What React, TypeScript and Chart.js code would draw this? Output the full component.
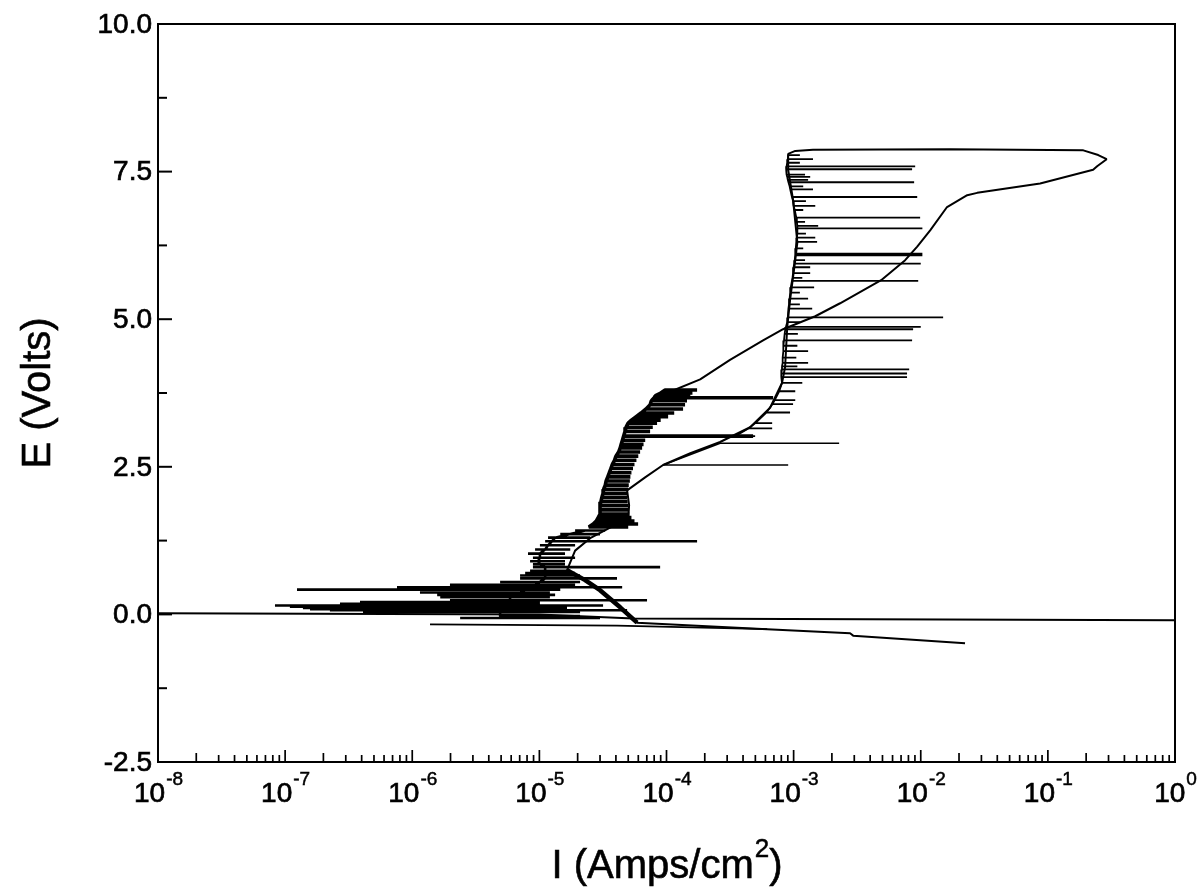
import React, { useEffect, useRef } from "react";
import { Chart, registerables } from "chart.js";

Chart.register(...registerables);

const FONT = '"Liberation Sans", Arial, Helvetica, sans-serif';

// ---------- axis definitions ----------
const xDecades = [-8, -7, -6, -5, -4, -3, -2, -1, 0];
const xMinorMultipliers = [2, 3, 4, 5, 6, 7, 8, 9];
const yMajorTicks = [-2.5, 0, 2.5, 5, 7.5, 10];
const yMinorTicks = [-1.25, 1.25, 3.75, 6.25, 8.75];
const yTickLabels = ["-2.5", "0.0", "2.5", "5.0", "7.5", "10.0"];
const xTitle = "I (Amps/cm";
const xTitleSup = "2";
const yTitle = "E (Volts)";

// ---------- data (I in A/cm², E in V) ----------
// main scan: cathodic end -> forward anodic -> top -> reverse
const scanI = [2.23e-2, 2.94e-3, 2.78e-3, 6.19e-4, 5.87e-5, 4.32e-5, 3.0e-5, 2.29e-5, 1.65e-5, 1.91e-5, 2.51e-5, 3.6e-5, 4.99e-5, 5.08e-5, 4.9e-5, 6.79e-5, 9.4e-5, 1.54e-4, 2.64e-4, 4.55e-4, 6.53e-4, 8.1e-4, 8.57e-4, 8.9e-4, 9.37e-4, 1.03e-3, 1.07e-3, 9.9e-4, 9.06e-4, 9.06e-4, 1.03e-3, 1.42e-3, 1.7e-2, 0.19, 0.249, 0.29, 0.244, 0.227, 0.0869, 0.0278, 0.0232, 0.0161, 0.0119, 9.38e-3, 7.54e-3, 4.88e-3, 2.32e-3, 1.48e-3, 8.26e-4, 5.75e-4, 3.16e-4, 1.84e-4, 1.01e-4];
const scanE = [-0.49, -0.36, -0.32, -0.25, -0.14, 0.12, 0.41, 0.58, 0.75, 1.08, 1.29, 1.47, 1.59, 1.85, 2.1, 2.32, 2.53, 2.73, 2.92, 3.17, 3.5, 3.92, 4.19, 4.86, 5.32, 6.0, 6.3, 7.02, 7.53, 7.8, 7.85, 7.87, 7.88, 7.86, 7.78, 7.71, 7.59, 7.53, 7.3, 7.14, 7.1, 6.9, 6.51, 6.23, 6.0, 5.66, 5.27, 5.05, 4.83, 4.64, 4.31, 3.98, 3.75];

// thick lower part of the forward branch
const thickI = [5.87e-5, 4.32e-5, 3.0e-5, 2.29e-5, 1.65e-5];
const thickE = [-0.14, 0.12, 0.41, 0.58, 0.75];

// zero-current line
const zeroI = [1e-8, 1e-5, 5.5e-5, 1];
const zeroE = [0.02, 0.0, -0.07, -0.1];

// lower cathodic trace
const cathI = [1.38e-6, 4.08e-5, 6.19e-4];
const cathE = [-0.17, -0.19, -0.25];

// noisy spikes along the passive band (E, base current, tip current)
const upperSpikeE = [7.78, 7.71, 7.65, 7.59, 7.54, 7.45, 7.41, 7.36, 7.32, 7.25, 7.2, 7.07, 7.0, 6.92, 6.85, 6.72, 6.65, 6.58, 6.54, 6.45, 6.38, 6.31, 6.2, 6.11, 6.08, 6.0, 5.94, 5.88, 5.78, 5.7, 5.65, 5.54, 5.45, 5.35, 5.25, 5.18, 5.03, 4.95, 4.87, 4.83, 4.75, 4.64, 4.55, 4.46, 4.35, 4.26, 4.2, 4.15, 4.08, 4.02, 3.92, 3.78, 3.63, 3.56, 3.42, 3.24, 3.15, 3.02];
const upperSpikeBase = [9.06e-4, 9.0e-4, 8.9e-4, 8.8e-4, 8.73e-4, 8.8e-4, 8.9e-4, 9.0e-4, 9.1e-4, 9.3e-4, 9.4e-4, 9.7e-4, 9.9e-4, 1.0e-3, 1.02e-3, 1.05e-3, 1.06e-3, 1.07e-3, 1.07e-3, 1.07e-3, 1.06e-3, 1.05e-3, 1.04e-3, 1.03e-3, 1.03e-3, 1.02e-3, 1.01e-3, 1.0e-3, 9.9e-4, 9.8e-4, 9.7e-4, 9.5e-4, 9.4e-4, 9.3e-4, 9.2e-4, 9.1e-4, 9.0e-4, 8.9e-4, 8.7e-4, 8.6e-4, 8.5e-4, 8.4e-4, 8.3e-4, 8.3e-4, 8.2e-4, 8.2e-4, 8.1e-4, 8.1e-4, 8.0e-4, 8.0e-4, 8.1e-4, 7.7e-4, 7.1e-4, 6.8e-4, 6.1e-4, 5.0e-4, 4.4e-4, 3.5e-4];
const upperSpikeTip = [1.12e-3, 1.42e-3, 1.12e-3, 9.04e-3, 8.55e-3, 1.23e-3, 1.35e-3, 1.3e-3, 8.87e-3, 1.19e-3, 1.42e-3, 9.38e-3, 1.25e-3, 1.48e-3, 1.19e-3, 9.89e-3, 1.23e-3, 1.56e-3, 1.03e-2, 1.25e-3, 1.48e-3, 1.53e-3, 1.19e-3, 1.03e-2, 1.03e-2, 1.23e-3, 1.0e-2, 1.35e-3, 1.35e-3, 1.17e-3, 9.55e-3, 1.45e-3, 1.12e-3, 1.3e-3, 1.12e-3, 1.4e-3, 1.5e-2, 1.12e-3, 1.0e-2, 8.71e-3, 1.08e-3, 8.55e-3, 1.07e-3, 1.3e-3, 1.05e-3, 1.3e-3, 1.07e-3, 8.11e-3, 7.8e-3, 7.8e-3, 1.17e-3, 1.03e-3, 1.03e-3, 9.9e-4, 9.37e-4, 6.78e-4, 6.78e-4, 4.98e-4];

// long spikes leaving the forward branch
const fwdSpikeE = [2.9, 2.53];
const fwdSpikeBase = [2.64e-4, 9.4e-5];
const fwdSpikeTip = [2.28e-3, 9.06e-4];

// reverse branch, dense band (E, left edge, right tip)
const midSpikeE = [3.8, 3.75, 3.7, 3.67, 3.62, 3.55, 3.48, 3.41, 3.35, 3.29, 3.24, 3.17, 3.1, 3.02, 2.95, 2.88, 2.82, 2.75, 2.68, 2.61, 2.54, 2.47, 2.4, 2.33, 2.26, 2.19, 2.12, 2.05, 1.98, 1.91, 1.84, 1.77, 1.7, 1.64, 1.58, 1.53, 1.48];
const midSpikeBase = [9.75e-5, 9.0e-5, 8.13e-5, 8.0e-5, 7.6e-5, 7.43e-5, 6.9e-5, 6.3e-5, 5.77e-5, 5.3e-5, 4.99e-5, 4.8e-5, 4.72e-5, 4.6e-5, 4.5e-5, 4.4e-5, 4.32e-5, 4.2e-5, 4.0e-5, 3.9e-5, 3.75e-5, 3.65e-5, 3.55e-5, 3.45e-5, 3.35e-5, 3.3e-5, 3.2e-5, 3.17e-5, 3.1e-5, 3.05e-5, 3.0e-5, 3.0e-5, 3.0e-5, 2.9e-5, 2.8e-5, 2.65e-5, 2.45e-5];
const midSpikeTip = [1.74e-4, 1.6e-4, 1.54e-4, 6.9e-4, 1.45e-4, 1.4e-4, 1.35e-4, 1.15e-4, 1.03e-4, 9.0e-5, 8.43e-5, 7.8e-5, 7.43e-5, 4.8e-4, 6.8e-5, 6.6e-5, 6.43e-5, 6.2e-5, 6.0e-5, 5.8e-5, 5.6e-5, 5.45e-5, 5.3e-5, 5.2e-5, 5.15e-5, 5.05e-5, 5.0e-5, 4.9e-5, 4.9e-5, 4.95e-5, 5.0e-5, 5.0e-5, 5.1e-5, 5.3e-5, 5.6e-5, 5.98e-5, 5.0e-5];

// reverse branch near the corrosion potential (E, base, left tip, right tip)
const lowSpikeE = [1.42, 1.36, 1.3, 1.24, 1.17, 1.1, 1.03, 0.96, 0.9, 0.85, 0.8, 0.74, 0.7, 0.66, 0.61, 0.55, 0.5, 0.46, 0.42, 0.37, 0.33, 0.29, 0.24, 0.21, 0.18, 0.15, 0.13, 0.11, 0.09, 0.07, 0.04, -0.03, -0.06];
const lowSpikeBase = [2.29e-5, 1.75e-5, 1.33e-5, 1.26e-5, 1.17e-5, 1.11e-5, 1.01e-5, 1.01e-5, 9.77e-6, 1.01e-5, 1.11e-5, 1.11e-5, 1.11e-5, 1.11e-5, 1.11e-5, 1.01e-5, 9.25e-6, 8.45e-6, 7.73e-6, 7.05e-6, 6.44e-6, 5.88e-6, 5.88e-6, 5.37e-6, 5.37e-6, 4.91e-6, 4.91e-6, 4.91e-6, 4.91e-6, 4.91e-6, 4.91e-6, 4.91e-6, 7.05e-6];
const lowSpikeLo = [1.91e-5, 1.46e-5, 1.17e-5, 1.11e-5, 1.01e-5, 9.25e-6, 8.14e-6, 8.9e-6, 8.45e-6, 8.9e-6, 8.9e-6, 8.45e-6, 7.73e-6, 7.05e-6, 7.05e-6, 4.91e-6, 1.98e-6, 7.59e-7, 1.24e-7, 1.15e-6, 1.57e-6, 1.66e-6, 1.98e-6, 3.88e-7, 2.7e-7, 8.32e-8, 1.09e-7, 1.38e-7, 1.57e-7, 2.25e-7, 4.1e-7, 4.91e-6, 2.38e-6];
const lowSpikeHi = [3.29e-5, 3.0e-5, 2.51e-5, 1.74e-4, 1.91e-5, 1.75e-5, 1.59e-5, 1.91e-5, 1.59e-5, 1.59e-5, 8.91e-5, 1.75e-5, 1.91e-5, 2.09e-5, 4.08e-5, 2.09e-5, 1.91e-5, 4.48e-5, 1.46e-5, 1.21e-5, 1.33e-5, 1.21e-5, 7.03e-5, 1.01e-5, 1.01e-5, 3.17e-5, 1.46e-5, 1.65e-5, 1.01e-5, 4.9e-5, 2.09e-5, 2.09e-5, 3.0e-5];

// ---------- helpers ----------
type P = { x: number; y: number };
function toPoints(xs: number[], ys: number[]): P[] {
  return xs.map((x, i) => ({ x, y: ys[i] }));
}
function toSpikes(E: number[], base: number[], lo: number[], hi: number[]): P[] {
  const pts: P[] = [];
  E.forEach((e, i) => {
    pts.push({ x: base[i], y: e }, { x: lo[i], y: e }, { x: hi[i], y: e }, { x: base[i], y: e });
  });
  return pts;
}

function lineSet(data: P[], width: number) {
  return {
    data,
    showLine: true,
    borderColor: "#000",
    backgroundColor: "#000",
    borderWidth: width,
    pointRadius: 0,
    pointHoverRadius: 0,
    tension: 0,
    borderJoinStyle: "bevel" as const,
    fill: false,
  };
}

const framePlugin = {
  id: "frame",
  afterDraw(chart: any) {
    const { ctx, chartArea, scales } = chart;
    const { left, right, top, bottom } = chartArea;
    const x = scales.x;
    const y = scales.y;
    ctx.save();
    ctx.strokeStyle = "#000";
    ctx.fillStyle = "#000";
    ctx.lineWidth = 2;
    ctx.strokeRect(left, top, right - left, bottom - top);

    const seg = (x1: number, y1: number, x2: number, y2: number) => {
      ctx.beginPath();
      ctx.moveTo(x1, y1);
      ctx.lineTo(x2, y2);
      ctx.stroke();
    };
    // y ticks (inward)
    ctx.lineWidth = 2;
    yMajorTicks.forEach((v) => {
      const py = y.getPixelForValue(v);
      seg(left, py, left + 14, py);
    });
    yMinorTicks.forEach((v) => {
      const py = y.getPixelForValue(v);
      seg(left, py, left + 9, py);
    });
    // x ticks (inward)
    ctx.lineWidth = 1.7;
    xDecades.forEach((d) => {
      const dv = Math.pow(10, d);
      const px = x.getPixelForValue(dv);
      seg(px, bottom, px, bottom - 12);
      if (d < 0) {
        xMinorMultipliers.forEach((m) => {
          const mx = x.getPixelForValue(m * dv);
          seg(mx, bottom, mx, bottom - (m === 2 ? 9 : 7));
        });
      }
    });

    const text = (s: string, tx: number, ty: number, w: number) => {
      ctx.lineWidth = w;
      ctx.strokeText(s, tx, ty);
      ctx.fillText(s, tx, ty);
    };

    // y tick labels
    ctx.font = `28px ${FONT}`;
    ctx.textAlign = "right";
    ctx.textBaseline = "middle";
    yMajorTicks.forEach((v, i) => {
      text(yTickLabels[i], left - 6, y.getPixelForValue(v) + 1, 0.7);
    });

    // x tick labels 10^n
    ctx.textAlign = "left";
    ctx.textBaseline = "alphabetic";
    xDecades.forEach((d) => {
      const px = x.getPixelForValue(Math.pow(10, d));
      ctx.font = `28px ${FONT}`;
      const w10 = ctx.measureText("10").width;
      ctx.font = `19px ${FONT}`;
      const exp = String(d);
      const we = ctx.measureText(exp).width;
      const start = px - (w10 + we) / 2;
      ctx.font = `28px ${FONT}`;
      text("10", start, bottom + 40, 0.7);
      ctx.font = `19px ${FONT}`;
      text(exp, start + w10 + 1, bottom + 23, 0.5);
    });

    // x title
    ctx.font = `40px ${FONT}`;
    const wMain = ctx.measureText(xTitle).width;
    const wClose = ctx.measureText(")").width;
    ctx.font = `26px ${FONT}`;
    const wSup = ctx.measureText(xTitleSup).width;
    const cx = (left + right) / 2;
    const sx = cx - (wMain + wSup + wClose) / 2;
    const by = bottom + 116;
    ctx.font = `40px ${FONT}`;
    text(xTitle, sx, by, 0.6);
    text(")", sx + wMain + wSup + 1, by, 0.6);
    ctx.font = `26px ${FONT}`;
    text(xTitleSup, sx + wMain + 1, by - 21, 0.5);

    // y title
    ctx.save();
    ctx.translate(50, (top + bottom) / 2);
    ctx.rotate(-Math.PI / 2);
    ctx.font = `40px ${FONT}`;
    ctx.textAlign = "center";
    ctx.textBaseline = "alphabetic";
    text(yTitle, 0, 0, 0.6);
    ctx.restore();

    ctx.restore();
  },
};

export default function App() {
  const ref = useRef<HTMLCanvasElement | null>(null);
  useEffect(() => {
    if (!ref.current) return;
    const chart = new Chart(ref.current, {
      type: "scatter",
      data: {
        datasets: [
          lineSet(toPoints(zeroI, zeroE), 2),
          lineSet(toPoints(cathI, cathE), 1.8),
          lineSet(toPoints(scanI, scanE), 2),
          lineSet(toPoints(thickI, thickE), 4.5),
          lineSet(toSpikes(upperSpikeE, upperSpikeBase, upperSpikeBase, upperSpikeTip), 1.8),
          lineSet(toSpikes(fwdSpikeE, fwdSpikeBase, fwdSpikeBase, fwdSpikeTip), 1.6),
          lineSet(toSpikes(midSpikeE, midSpikeBase, midSpikeBase, midSpikeTip), 3.6),
          lineSet(toSpikes(lowSpikeE, lowSpikeBase, lowSpikeLo, lowSpikeHi), 2.6),
        ] as any,
      },
      options: {
        responsive: false,
        animation: false,
        events: [],
        layout: { padding: { left: 158, right: 22, top: 24, bottom: 128 } },
        plugins: { legend: { display: false }, tooltip: { enabled: false }, title: { display: false } },
        scales: {
          x: { type: "logarithmic", min: 1e-8, max: 1, display: false },
          y: { type: "linear", min: -2.5, max: 10, display: false },
        },
      },
      plugins: [framePlugin],
    });
    return () => chart.destroy();
  }, []);
  return (
    <div style={{ position: "absolute", left: 0, top: 0, width: 1197, height: 890, background: "#fff" }}>
      <canvas ref={ref} width={1197} height={890} style={{ width: 1197, height: 890, display: "block" }} />
    </div>
  );
}
